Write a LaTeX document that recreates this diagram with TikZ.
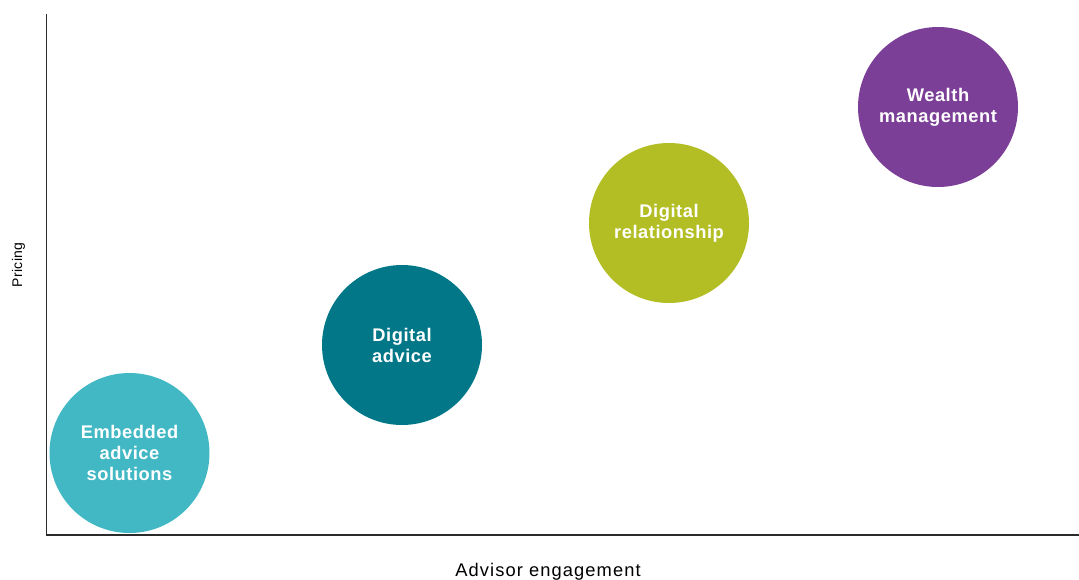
\documentclass[tikz,border=0pt]{standalone}
\usepackage{fontspec}
\setmainfont{Liberation Sans}
\newfontfamily\bubblefont[LetterSpace=3]{Liberation Sans Bold}
\newfontfamily\axisfont[LetterSpace=6]{Liberation Sans}
\newfontfamily\yaxisfont[LetterSpace=3]{Liberation Sans}
\definecolor{cEmb}{HTML}{41B8C4}
\definecolor{cAdv}{HTML}{017788}
\definecolor{cRel}{HTML}{B2BE23}
\definecolor{cWlt}{HTML}{7C3F97}
\definecolor{axisc}{HTML}{2B2B2B}
\begin{document}
\begin{tikzpicture}[x=1pt,y=-1pt,
  bubble/.style={circle, minimum size=160pt, inner sep=0pt, text=white, align=center,
    font=\bubblefont\fontsize{18.3}{21}\selectfont},
  axisline/.style={draw=axisc, line width=1.6pt},
  axislabel/.style={text=black, inner sep=0pt}]
\useasboundingbox (0,0) rectangle (1079,579);
\coordinate (top) at (46.5,14);
\coordinate (origin) at (46.5,535);
\coordinate (right) at (1079,535);
\draw[axisline] (top) -- (origin) -- (right);
\node[bubble, fill=cEmb] (emb) at (129.5,453) {Embedded\\advice\\solutions};
\node[bubble, fill=cAdv] (adv) at (402,345) {Digital\\advice};
\node[bubble, fill=cRel] (rel) at (669,223) {Digital\\relationship};
\node[bubble, fill=cWlt] (wlt) at (938,107) {Wealth\\management};
\node[axislabel, anchor=base, font=\axisfont\fontsize{18.3}{21}\selectfont] (xl) at (548,576) {Advisor engagement};
\node[axislabel, anchor=base, rotate=90, font=\yaxisfont\fontsize{14}{17}\selectfont] (yl) at (22,265) {Pricing};
\end{tikzpicture}
\end{document}
